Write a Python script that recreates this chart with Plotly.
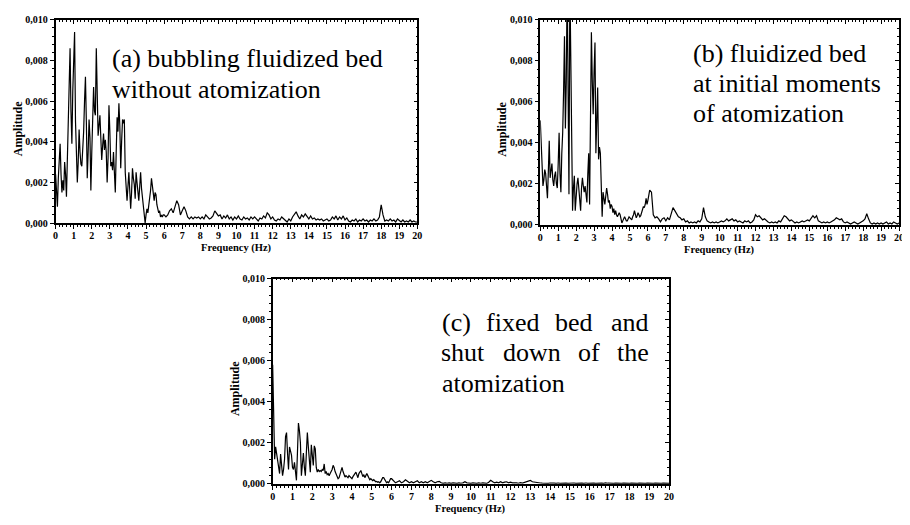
import numpy as np
import plotly.graph_objects as go

# The page body keeps its default 8px margin, so the figure is drawn 8px
# in from the window's corner: size it to fill the rest of the 910x525 window.
PAGE_OFFSET = 8
W, H = 910 - PAGE_OFFSET, 525 - PAGE_OFFSET

# Frequency grid (Hz): 0.05 Hz steps up to 5.95 Hz, then 0.1 Hz steps up to 20 Hz
freq_low = [round(0.05 * i, 2) for i in range(120)]
freq_high = [round(6 + 0.1 * i, 1) for i in range(141)]
freq = freq_low + freq_high

# Amplitudes, in units of 0.001
amp_a_low = [
    2.4, 1.5, 0.8, 2.2, 3.2, 3.9, 2.4, 1.5, 2.1, 1.6,
    3.0, 2.4, 1.3, 3.1, 4.2, 6.5, 8.6, 5.5, 3.9, 6.5,
    8.0, 9.4, 5.0, 3.5, 2.0, 3.0, 4.6, 3.5, 2.9, 2.8,
    3.5, 4.5, 6.0, 7.2, 5.0, 2.2, 3.5, 5.1, 4.2, 1.6,
    3.5, 5.0, 6.7, 5.5, 5.3, 8.6, 6.0, 4.3, 4.8, 5.3,
    4.2, 3.1, 3.8, 4.4, 3.6, 4.1, 3.5, 2.0, 3.2, 5.8,
    4.5, 2.8, 3.0, 2.6, 3.5, 2.4, 1.5, 3.5, 5.2, 4.5,
    5.9, 4.8, 2.7, 4.0, 5.1, 4.9, 5.1, 2.5, 1.5, 1.1,
    1.8, 2.5, 1.6, 0.7, 1.5, 2.7, 2.2, 1.9, 1.2, 2.5,
    2.0, 1.5, 1.1, 1.8, 2.5, 1.7, 1.2, 0.9, 0.6, 0.0,
    0.4, 0.7, 0.5, 0.8, 1.1, 1.6, 2.2, 1.7, 1.3, 1.1,
    1.5, 1.4, 0.9, 0.7, 0.5, 0.6, 0.3, 0.4, 0.3, 0.4,
]
amp_a_high = [
    0.4, 0.3, 0.4, 0.6, 0.7, 0.5, 0.8, 1.1, 0.9, 0.4,
    0.6, 0.8, 0.6, 0.3, 0.2, 0.3, 0.2, 0.3, 0.25, 0.3,
    0.2, 0.3, 0.2, 0.4, 0.3, 0.2, 0.25, 0.35, 0.6, 0.5,
    0.35, 0.4, 0.2, 0.35, 0.25, 0.4, 0.2, 0.3, 0.15, 0.3,
    0.2, 0.35, 0.2, 0.15, 0.3, 0.2, 0.25, 0.15, 0.3, 0.2,
    0.3, 0.2, 0.1, 0.25, 0.2, 0.35, 0.25, 0.5, 0.4, 0.2,
    0.3, 0.15, 0.1, 0.2, 0.15, 0.3, 0.2, 0.15, 0.05, 0.2,
    0.1, 0.3, 0.45, 0.55, 0.35, 0.2, 0.4, 0.3, 0.45, 0.3,
    0.2, 0.35, 0.2, 0.25, 0.15, 0.2, 0.15, 0.2, 0.1, 0.15,
    0.2, 0.1, 0.15, 0.3, 0.2, 0.35, 0.15, 0.3, 0.2, 0.35,
    0.15, 0.25, 0.1, 0.05, 0.15, 0.1, 0.2, 0.05, 0.15, 0.1,
    0.2, 0.1, 0.15, 0.05, 0.15, 0.1, 0.2, 0.1, 0.15, 0.3,
    0.9, 0.4, 0.1, 0.15, 0.1, 0.2, 0.1, 0.15, 0.05, 0.2,
    0.1, 0.05, 0.15, 0.05, 0.1, 0.05, 0.15, 0.05, 0.1, 0.05,
    0.05,
]

amp_b_low = [
    5.1, 4.0, 2.8, 1.9, 2.2, 2.7, 2.5, 1.8, 1.3, 2.6,
    4.1, 2.3, 2.6, 3.0, 2.2, 1.9, 2.4, 2.6, 2.0, 1.8,
    3.0, 4.5, 2.5, 1.6, 3.5, 4.5, 6.5, 9.2, 4.7, 7.0,
    12.0, 6.0, 1.5, 12.0, 8.2, 2.5, 0.7, 1.8, 2.4, 0.7,
    1.5, 2.0, 2.3, 1.8, 1.2, 0.7, 1.8, 2.3, 1.9, 1.6,
    1.9, 1.6, 1.1, 2.5, 3.5, 1.0, 6.0, 9.4, 7.0, 5.4,
    7.5, 8.9, 3.5, 5.0, 6.7, 3.2, 3.8, 3.5, 1.5, 0.4,
    1.6, 1.3, 1.0, 1.4, 1.8, 1.5, 1.1, 1.2, 0.8, 1.0,
    0.9, 0.6, 0.8, 0.5, 0.7, 0.5, 0.4, 0.5, 0.6, 0.5,
    0.3, 0.1, 0.2, 0.3, 0.4, 0.3, 0.2, 0.2, 0.3, 0.4,
    0.35, 0.3, 0.25, 0.4, 0.5, 0.7, 0.5, 0.35, 0.45, 0.6,
    0.5, 0.4, 0.45, 0.6, 0.75, 0.9, 0.85, 1.0, 1.3, 1.0,
]
amp_b_high = [
    1.2, 1.7, 1.6, 0.5, 0.35, 0.4, 0.3, 0.15, 0.3, 0.35,
    0.2, 0.35, 0.25, 0.5, 0.85, 0.7, 0.55, 0.4, 0.35, 0.25,
    0.3, 0.15, 0.2, 0.1, 0.15, 0.1, 0.15, 0.1, 0.2, 0.15,
    0.3, 0.85, 0.4, 0.2, 0.15, 0.1, 0.15, 0.1, 0.15, 0.1,
    0.15, 0.2, 0.15, 0.2, 0.3, 0.2, 0.25, 0.3, 0.2, 0.25,
    0.15, 0.2, 0.15, 0.1, 0.2, 0.15, 0.2, 0.1, 0.15, 0.25,
    0.5, 0.4, 0.45, 0.35, 0.25, 0.3, 0.2, 0.15, 0.1, 0.15,
    0.1, 0.15, 0.1, 0.2, 0.15, 0.3, 0.45, 0.4, 0.3, 0.2,
    0.25, 0.15, 0.1, 0.15, 0.1, 0.15, 0.2, 0.15, 0.2, 0.25,
    0.2, 0.35, 0.45, 0.35, 0.45, 0.2, 0.15, 0.1, 0.15, 0.1,
    0.15, 0.1, 0.15, 0.2, 0.25, 0.35, 0.3, 0.25, 0.3, 0.15,
    0.1, 0.15, 0.1, 0.05, 0.1, 0.15, 0.1, 0.05, 0.1, 0.15,
    0.2, 0.3, 0.55, 0.3, 0.1, 0.05, 0.1, 0.05, 0.1, 0.05,
    0.1, 0.05, 0.1, 0.15, 0.05, 0.1, 0.05, 0.15, 0.1, 0.05,
    0.1,
]

amp_c_low = [
    5.8, 2.5, 1.2, 1.8, 1.4, 1.05, 0.6, 0.5, 1.45, 1.0,
    0.4, 0.7, 1.2, 2.3, 2.5, 1.5, 0.7, 1.8, 1.6, 1.4,
    0.8, 0.7, 1.05, 0.6, 0.17, 1.5, 2.96, 2.6, 2.0, 0.4,
    1.0, 1.5, 0.8, 0.4, 1.5, 2.5, 1.8, 1.0, 0.57, 1.9,
    1.3, 0.9, 1.85, 1.7, 0.8, 0.57, 0.7, 0.6, 0.65, 0.6,
    0.7, 0.65, 0.97, 0.5, 0.6, 0.45, 0.5, 0.4, 0.5, 0.6,
    0.7, 0.9, 0.8, 0.6, 0.45, 0.3, 0.25, 0.3, 0.5, 0.6,
    0.8, 0.6, 0.4, 0.33, 0.4, 0.35, 0.3, 0.4, 0.35, 0.3,
    0.25, 0.35, 0.4, 0.5, 0.57, 0.4, 0.3, 0.5, 0.6, 0.65,
    0.5, 0.35, 0.45, 0.3, 0.4, 0.5, 0.4, 0.3, 0.2, 0.25,
    0.2, 0.15, 0.2, 0.15, 0.1, 0.12, 0.08, 0.1, 0.05, 0.1,
    0.2, 0.3, 0.3, 0.2, 0.1, 0.05, 0.1, 0.05, 0.15, 0.25,
]
amp_c_high = [
    0.25, 0.15, 0.05, 0.1, 0.15, 0.05, 0.1, 0.2, 0.1, 0.05,
    0.1, 0.05, 0.1, 0.15, 0.05, 0.1, 0.05, 0.1, 0.05, 0.1,
    0.17, 0.1, 0.05, 0.1, 0.12, 0.05, 0.02, 0.05, 0.03, 0.05,
    0.02, 0.05, 0.03, 0.02, 0.05, 0.03, 0.05, 0.1, 0.05, 0.03,
    0.02, 0.05, 0.03, 0.02, 0.05, 0.03, 0.05, 0.04, 0.02, 0.08,
    0.17, 0.1, 0.05, 0.08, 0.05, 0.1, 0.05, 0.08, 0.1, 0.05,
    0.08, 0.05, 0.06, 0.05, 0.03, 0.06, 0.04, 0.08, 0.1, 0.15,
    0.17, 0.1, 0.08, 0.05, 0.06, 0.04, 0.03, 0.02, 0.03, 0.02,
    0.04, 0.02, 0.03, 0.02, 0.04, 0.02, 0.03, 0.02, 0.03, 0.02,
    0.03, 0.02, 0.04, 0.02, 0.03, 0.02, 0.03, 0.02, 0.04, 0.02,
    0.03, 0.02, 0.03, 0.02, 0.03, 0.02, 0.03, 0.02, 0.05, 0.03,
    0.02, 0.03, 0.02, 0.03, 0.02, 0.03, 0.02, 0.03, 0.02, 0.03,
    0.02, 0.03, 0.02, 0.03, 0.02, 0.03, 0.02, 0.03, 0.02, 0.03,
    0.02, 0.03, 0.02, 0.03, 0.02, 0.03, 0.02, 0.03, 0.02, 0.03,
    0.02,
]

x_tick_labels = [str(i) for i in range(21)]
y_tick_values = [0.0, 0.002, 0.004, 0.006, 0.008, 0.010]

SERIF = "Liberation Serif, Times New Roman, Tinos, DejaVu Serif, serif"
BLACK = "black"


def to_amp(low, high):
    return (np.array(low + high) * 1e-3).tolist()


series = {
    "a": to_amp(amp_a_low, amp_a_high),
    "b": to_amp(amp_b_low, amp_b_high),
    "c": to_amp(amp_c_low, amp_c_high),
}
for k, v in series.items():
    assert len(v) == len(freq), (k, len(v), len(freq))

# panel boxes in window pixels: left, right, top, bottom
boxes = {
    "a": (53, 418, 14, 222),
    "b": (542, 904, 14, 224),
    "c": (272, 672, 279, 489),
}
axis_ids = {"a": ("", "4"), "b": ("2", "5"), "c": ("3", "6")}


def px(x):
    return (x - PAGE_OFFSET) / W


def py(y):
    return 1 - (y - PAGE_OFFSET) / H


tickfont = dict(family=SERIF, size=10, color=BLACK, weight="bold")

fig = go.Figure()
layout = dict(
    width=W, height=H,
    margin=dict(l=0, r=0, t=0, b=0),
    paper_bgcolor="white", plot_bgcolor="white",
    showlegend=False,
    separators=",.",
)
annotations = []

for key, (l, r, t, b) in boxes.items():
    main_id, over_id = axis_ids[key]
    xa, ya = "xaxis" + main_id, "yaxis" + main_id
    xo, yo = "xaxis" + over_id, "yaxis" + over_id
    xref, yref = "x" + main_id, "y" + main_id
    xref_o, yref_o = "x" + over_id, "y" + over_id

    fig.add_trace(go.Scatter(
        x=freq, y=series[key], mode="lines",
        line=dict(color=BLACK, width=1.2),
        xaxis=xref, yaxis=yref, hoverinfo="skip",
    ))
    fig.add_trace(go.Scatter(
        x=[0], y=[0], mode="markers", marker=dict(opacity=0, size=1),
        xaxis=xref_o, yaxis=yref_o, hoverinfo="skip",
    ))

    layout[xa] = dict(
        domain=[px(l), px(r)], anchor=yref, range=[0, 20],
        tickmode="array", tickvals=list(range(21)), ticktext=x_tick_labels,
        ticks="outside", ticklen=4, tickwidth=1, tickcolor=BLACK,
        ticklabelstandoff=-2,
        minor=dict(dtick=0.2, tick0=0, ticks="outside", ticklen=2,
                   tickwidth=1, tickcolor=BLACK, showgrid=False),
        showline=True, linecolor=BLACK, linewidth=1.5,
        showgrid=False, zeroline=False, tickfont=tickfont,
    )
    layout[ya] = dict(
        domain=[py(b), py(t)], anchor=xref, range=[0, 0.010],
        tickmode="array", tickvals=y_tick_values, tickformat=".3f",
        ticks="outside", ticklen=4, tickwidth=1, tickcolor=BLACK,
        minor=dict(dtick=0.0004, tick0=0, ticks="outside", ticklen=2,
                   tickwidth=1, tickcolor=BLACK, showgrid=False),
        showline=True, linecolor=BLACK, linewidth=1.5,
        showgrid=False, zeroline=False, tickfont=tickfont,
    )
    layout[xo] = dict(
        overlaying=xref, anchor=yref, side="top", range=[0, 20],
        dtick=1, tick0=0, ticks="inside", ticklen=4, tickwidth=1,
        tickcolor=BLACK, showticklabels=False,
        minor=dict(dtick=0.2, tick0=0, ticks="inside", ticklen=2,
                   tickwidth=1, tickcolor=BLACK, showgrid=False),
        showline=True, linecolor=BLACK, linewidth=1.5,
        showgrid=False, zeroline=False,
    )
    layout[yo] = dict(
        overlaying=yref, anchor=xref, side="right", range=[0, 0.010],
        dtick=0.002, tick0=0, ticks="inside", ticklen=4, tickwidth=1,
        tickcolor=BLACK, showticklabels=False,
        minor=dict(dtick=0.0004, tick0=0, ticks="inside", ticklen=2,
                   tickwidth=1, tickcolor=BLACK, showgrid=False),
        showline=True, linecolor=BLACK, linewidth=1.5,
        showgrid=False, zeroline=False,
    )

    # axis titles
    annotations.append(dict(
        text="Amplitude", x=px(l - 38), y=py((t + b) / 2 + 7),
        xref="paper", yref="paper", xanchor="center", yanchor="middle",
        textangle=-90, showarrow=False,
        font=dict(family=SERIF, size=12, color=BLACK, weight="bold"),
    ))
    annotations.append(dict(
        text="Frequency (Hz)", x=px((l + r) / 2), y=py(b + 26),
        xref="paper", yref="paper", xanchor="center", yanchor="middle",
        showarrow=False,
        font=dict(family=SERIF, size=10.5, color=BLACK, weight="bold"),
    ))

big = dict(family=SERIF, size=26, color=BLACK)


def label(text, x, y, anchor="left"):
    annotations.append(dict(
        text=text, x=px(x), y=py(y), xref="paper", yref="paper",
        xanchor=anchor, yanchor="middle", showarrow=False, font=big,
    ))


label("(a) bubbling fluidized bed", 108, 54)
label("without atomization", 108, 85)
label("(b) fluidized bed", 694, 48)
label("at initial moments", 694, 79)
label("of atomization", 694, 110)
# (c) justified text, word by word
for word, cx in [("(c)", 457), ("fixed", 514), ("bed", 576), ("and", 633)]:
    label(word, cx, 324, anchor="center")
for word, cx in [("shut", 464), ("down", 534), ("of", 591), ("the", 636)]:
    label(word, cx, 355, anchor="center")
label("atomization", 441, 386)

layout["annotations"] = annotations
fig.update_layout(**layout)
fig.write_html("out.html")
